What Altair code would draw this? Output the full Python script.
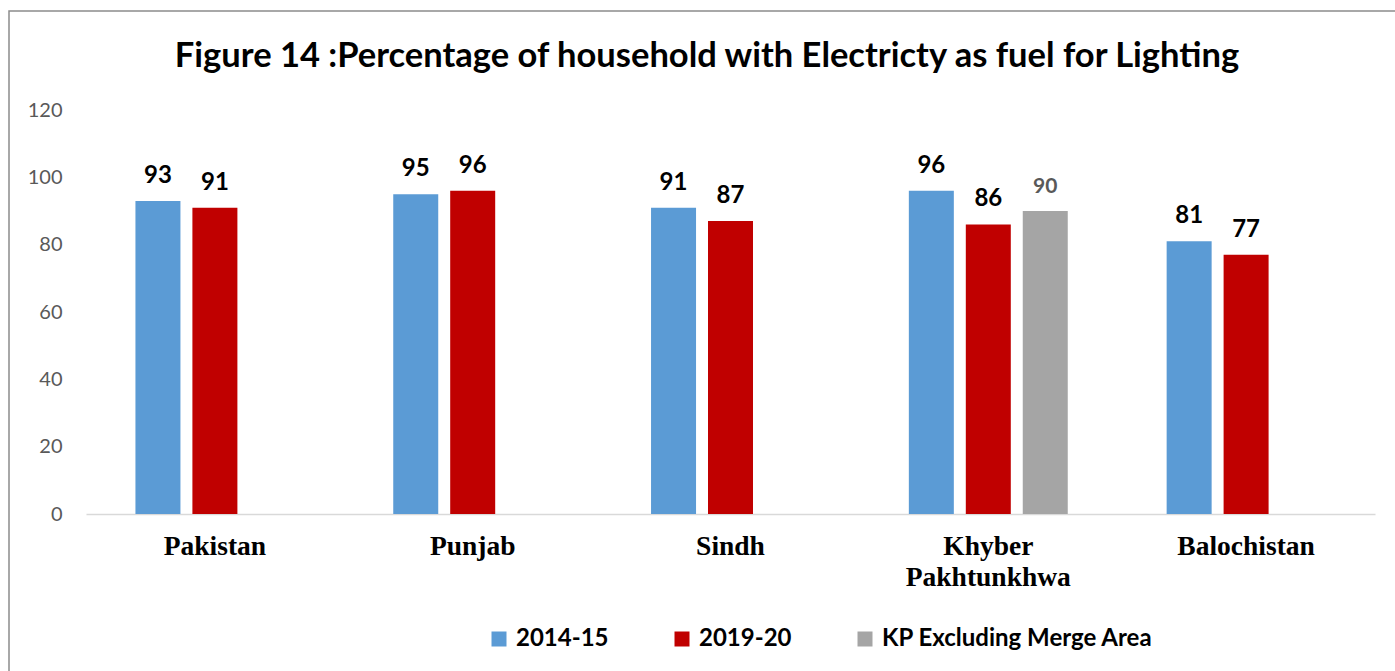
import altair as alt
import pandas as pd

# Categories, series and values
regions = ["Pakistan", "Punjab", "Sindh", "Khyber\nPakhtunkhwa", "Balochistan"]
series = ["2014-15", "2019-20", "KP Excluding Merge Area"]
values_2014_15 = [93, 95, 91, 96, 81]
values_2019_20 = [91, 96, 87, 86, 77]
kp_excl_regions = ["Khyber\nPakhtunkhwa"]
kp_excl_values = [90]
series_colors = ["#5B9BD5", "#C00000", "#A5A5A5"]
y_ticks = [0, 20, 40, 60, 80, 100, 120]
title_text = "Figure 14 :Percentage of household with Electricty as fuel for Lighting"

rows = []
for r, v in zip(regions, values_2014_15):
    rows.append({"region": r, "series": series[0], "value": v})
for r, v in zip(regions, values_2019_20):
    rows.append({"region": r, "series": series[1], "value": v})
for r, v in zip(kp_excl_regions, kp_excl_values):
    rows.append({"region": r, "series": series[2], "value": v})
df = pd.DataFrame(rows)

W, H = 1289, 404
PAD = {"left": 86, "top": 110, "right": 20, "bottom": 157}

x_enc = alt.X(
    "region:N",
    sort=regions,
    title=None,
    scale=alt.Scale(paddingInner=0, paddingOuter=0),
    axis=alt.Axis(
        labelExpr="split(datum.label, '\\n')",
        labelAngle=0,
        labelFont="Liberation Serif",
        labelFontWeight="bold",
        labelFontSize=27.5,
        labelColor="black",
        labelLineHeight=31,
        labelBaseline="top",
        labelPadding=18,
        labelLimit=400,
        ticks=False,
        domainColor="#D9D9D9",
        domainWidth=1.5,
        grid=False,
    ),
)
xoff_enc = alt.XOffset(
    "series:N",
    sort=series,
    scale=alt.Scale(paddingInner=0.21, paddingOuter=0.868),
)
y_enc = alt.Y(
    "value:Q",
    title=None,
    scale=alt.Scale(domain=[0, 120], nice=False),
    axis=alt.Axis(
        values=y_ticks,
        grid=False,
        domain=False,
        ticks=False,
        labelColor="#595959",
        labelFont="Lato",
        labelFontSize=20,
        labelPadding=24,
    ),
)

bars = alt.Chart(df).mark_bar().encode(
    x=x_enc,
    xOffset=xoff_enc,
    y=y_enc,
    color=alt.Color(
        "series:N",
        sort=series,
        scale=alt.Scale(domain=series, range=series_colors),
        legend=alt.Legend(
            title=None,
            orient="none",
            direction="horizontal",
            legendX=401,
            legendY=517,
            symbolType="square",
            symbolSize=225,
            symbolStrokeWidth=0,
            labelFont="Lato",
            labelFontWeight="bold",
            labelFontSize=24,
            labelColor="black",
            labelOffset=5,
            labelLimit=400,
            columnPadding=61,
        ),
    ),
)

labels = alt.Chart(df).mark_text(
    baseline="alphabetic",
    dy=-18,
    font="Lato",
    fontWeight="bold",
).encode(
    x=x_enc,
    xOffset=xoff_enc,
    y=y_enc,
    text=alt.Text("value:Q"),
    color=alt.condition(
        alt.datum.series == series[2], alt.value("#595959"), alt.value("black")
    ),
    size=alt.condition(
        alt.datum.series == series[2], alt.value(21), alt.value(24)
    ),
)

# Chart heading, drawn as a text mark above the plot area
heading = alt.Chart(alt.Data(values=[{}])).mark_text(
    font="Lato",
    fontWeight="bold",
    fontSize=34.5,
    color="black",
    align="center",
    baseline="alphabetic",
).encode(
    x=alt.value(707 - PAD["left"]),
    y=alt.value(67 - PAD["top"]),
    text=alt.value(title_text),
)

# Outer frame around the whole figure
frame = alt.Chart(alt.Data(values=[{}])).mark_rect(
    fill=None, stroke="#8C8C8C", strokeWidth=1.5, clip=False
).encode(
    x=alt.value(9 - PAD["left"]),
    x2=alt.value(1395 - PAD["left"] + 10),
    y=alt.value(11 - PAD["top"]),
    y2=alt.value(671 - PAD["top"] + 10),
)

chart = (
    alt.layer(frame, heading, bars, labels)
    .properties(
        width=W,
        height=H,
        autosize=alt.AutoSizeParams(type="none"),
        padding=PAD,
        background="white",
    )
    .configure_view(stroke=None)
)

chart.save("out.html", embed_options={"renderer": "svg", "actions": False})
